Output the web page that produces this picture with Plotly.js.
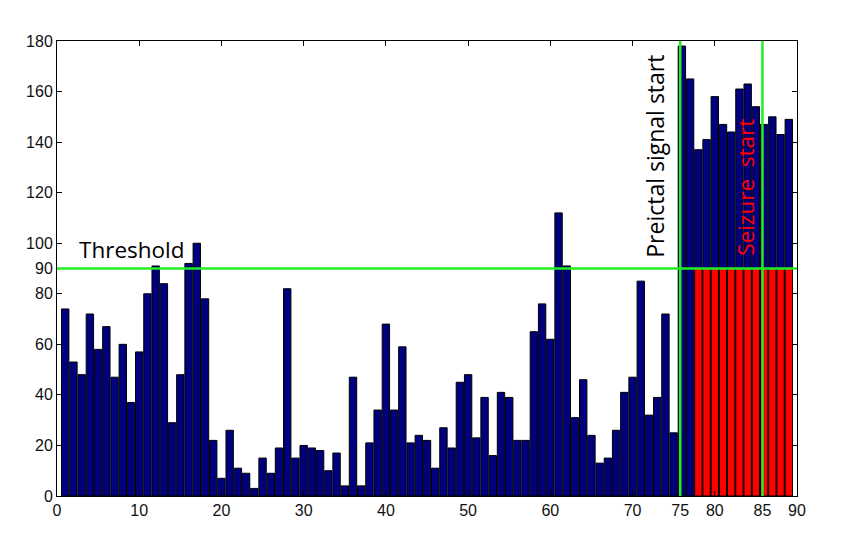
<!DOCTYPE html>
<html>
<head>
<meta charset="utf-8">
<script src="https://cdn.plot.ly/plotly-3.0.1.min.js"></script>
<style>
  body { margin: 0; background: #fff; }
  #chart { width: 847px; height: 542px; }
</style>
</head>
<body>
<div id="chart"></div>
<script>
// band power per window
var windows = [];
for (var i = 1; i <= 89; i++) windows.push(i);

var power = [
  74, 53, 48, 72, 58, 67, 47, 60, 37, 57,
  80, 91, 84, 29, 48, 92, 100, 78, 22, 7,
  26, 11, 9, 3, 15, 9, 19, 82, 15, 20,
  19, 18, 10, 17, 4, 47, 4, 21, 34, 68,
  34, 59, 21, 24, 22, 11, 27, 19, 45, 48,
  23, 39, 16, 41, 39, 22, 22, 65, 76, 62,
  112, 91, 31, 46, 24, 13, 15, 26, 41, 47,
  85, 32, 39, 72, 25, 178, 165, 137, 141, 158,
  147, 144, 161, 163, 154, 147, 150, 143, 149
];

var threshold = 90;
var preictalStart = 75.8;
var seizureStart = 85.8;

// windows flagged red (below threshold part)
var redWindows = [];
var redValues = [];
for (var k = 78; k <= 89; k++) {
  redWindows.push(k);
  redValues.push(Math.min(power[k - 1], threshold));
}

var xTickVals = [0, 10, 20, 30, 40, 50, 60, 70, preictalStart, 80, seizureStart, 90];
var xTickText = ['0', '10', '20', '30', '40', '50', '60', '70', '75', '80', '85', '90'];
var yTickVals = [0, 20, 40, 60, 80, 90, 100, 120, 140, 160, 180];

var traces = [
  {
    type: 'bar', x: windows, y: power, width: 0.9,
    marker: { color: '#00007f', line: { color: '#000', width: 1 } },
    hoverinfo: 'x+y'
  },
  {
    type: 'bar', x: redWindows, y: redValues, width: 0.9,
    marker: { color: '#ff0000', line: { color: '#000', width: 1 } },
    hoverinfo: 'x+y'
  }
];

var green = '#22ee22';

var layout = {
  width: 847, height: 542,
  margin: { l: 57, r: 50, t: 41, b: 46 },
  paper_bgcolor: '#fff', plot_bgcolor: '#fff',
  barmode: 'overlay',
  bargap: 0,
  showlegend: false,
  font: { family: 'Liberation Sans, Arial, sans-serif', size: 16, color: '#111' },
  xaxis: {
    range: [0, 90], tickvals: xTickVals, ticktext: xTickText,
    ticks: 'inside', ticklen: 5, tickcolor: '#000',
    showline: true, linecolor: '#000', linewidth: 1, mirror: 'ticks',
    showgrid: false, zeroline: false
  },
  yaxis: {
    range: [0, 180], tickvals: yTickVals,
    ticks: 'inside', ticklen: 5, tickcolor: '#000',
    showline: true, linecolor: '#000', linewidth: 1, mirror: 'ticks',
    showgrid: false, zeroline: false
  },
  shapes: [
    { type: 'line', xref: 'x', yref: 'y', x0: 0, x1: 90.7, y0: threshold, y1: threshold,
      line: { color: green, width: 2.5 } },
    { type: 'line', xref: 'x', yref: 'y', x0: preictalStart, x1: preictalStart, y0: 0, y1: 180,
      line: { color: green, width: 2.5 } },
    { type: 'line', xref: 'x', yref: 'y', x0: seizureStart, x1: seizureStart, y0: 0, y1: 180,
      line: { color: green, width: 2.5 } }
  ],
  annotations: [
    { text: 'Threshold', x: 2.4, y: 97.5, xref: 'x', yref: 'y', xanchor: 'left', yanchor: 'middle',
      showarrow: false, font: { family: 'Open Sans, sans-serif', size: 22.5, color: '#000' } },
    { text: 'Preictal signal start', x: 72.7, y: 134.5, xref: 'x', yref: 'y', textangle: -90,
      showarrow: false, font: { family: 'Open Sans, sans-serif', size: 23, color: '#000' } },
    { text: 'Seizure  start', x: 83.7, y: 122, xref: 'x', yref: 'y', textangle: -90,
      showarrow: false, font: { family: 'Open Sans, sans-serif', size: 22.5, color: '#ff0000' } }
  ]
};

Plotly.newPlot('chart', traces, layout, { displayModeBar: false, staticPlot: true });
</script>
</body>
</html>
